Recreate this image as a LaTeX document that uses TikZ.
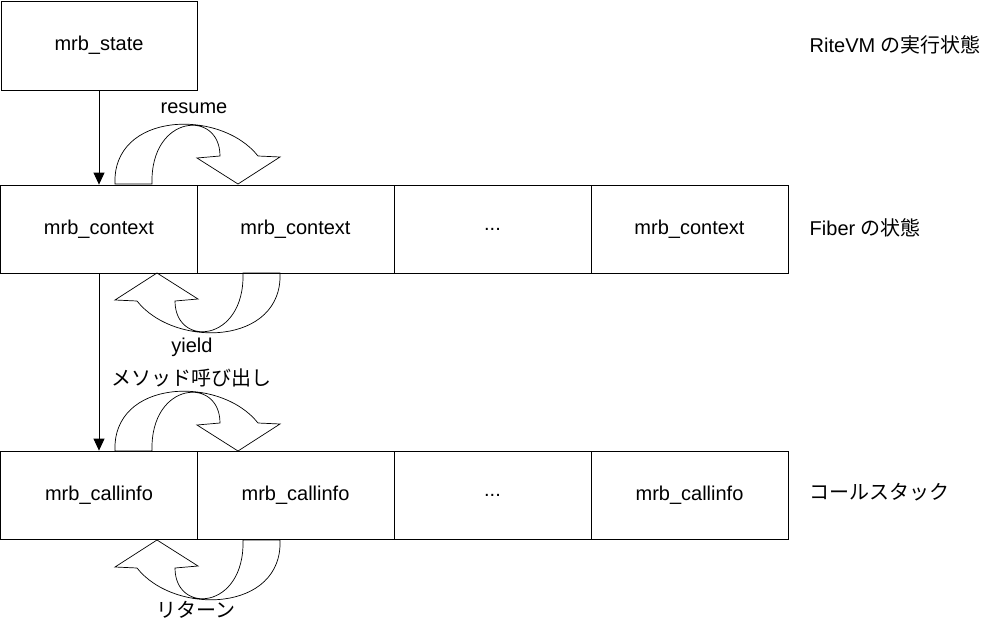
\documentclass[tikz,border=0pt]{standalone}
\usepackage{fontspec}
\setmainfont{Liberation Sans}
\newfontfamily\jp{Noto Sans CJK JP}
\usepackage{tikz}
\usetikzlibrary{arrows.meta,positioning}
\tikzset{
  curv/.pic={
    \draw[line width=0.7pt] (0,0) .. controls (-3,-72) and (105,-76) .. (143,-28)
      -- (165,-27) -- (123,0) -- (82,-26) -- (105,-28)
      .. controls (105,-75) and (35,-70) .. (37,0) -- cycle;
  }
}

\begin{document}
\begin{tikzpicture}[x=1pt,y=-1pt,line width=0.8pt,font=\fontsize{20}{24}\selectfont]
\tikzstyle{box}=[draw, minimum width=197pt, minimum height=88pt, inner sep=0pt]
\useasboundingbox (0,0) rectangle (985,629);
\node[box, minimum width=196pt, minimum height=89pt] (state) at (99,45.5) {mrb\_state};
\foreach \i/\x/\t in {1/99/mrb\_context,2/295.5/mrb\_context,3/492.5/.{}.{}.,4/689.5/mrb\_context}{
  \node[box] (ctx\i) at (\x,229) {\t};}
\foreach \i/\x/\t in {1/99/mrb\_callinfo,2/295.5/mrb\_callinfo,3/492.5/.{}.{}.,4/689.5/mrb\_callinfo}{
  \node[box] (ci\i) at (\x,495) {\t};}
\node[anchor=west] (vm) at (806,45) {RiteVM {\jp の実行状態}};
\node[anchor=west] (fiber) at (806,228) {Fiber {\jp の状態}};
\node[anchor=west] (stack) at (806,492) {\jp コールスタック};
\draw[-{Triangle[width=11pt,length=12pt]}] (state) -- (ctx1);
\draw[-{Triangle[width=11pt,length=12pt]}] (ctx1) -- (ci1);
% curved block arrows
\pic at (115,184) {curv};
\pic[rotate=180] at (280,273) {curv};
\pic at (115,451) {curv};
\pic[rotate=180] at (280,540) {curv};
\node (resume) at (194,108) {resume};
\node (yield) at (192,347) {yield};
\node (call) at (191,378) {\jp メソッド呼び出し};
\node (ret) at (196,610) {\jp リターン};
\end{tikzpicture}
\end{document}
